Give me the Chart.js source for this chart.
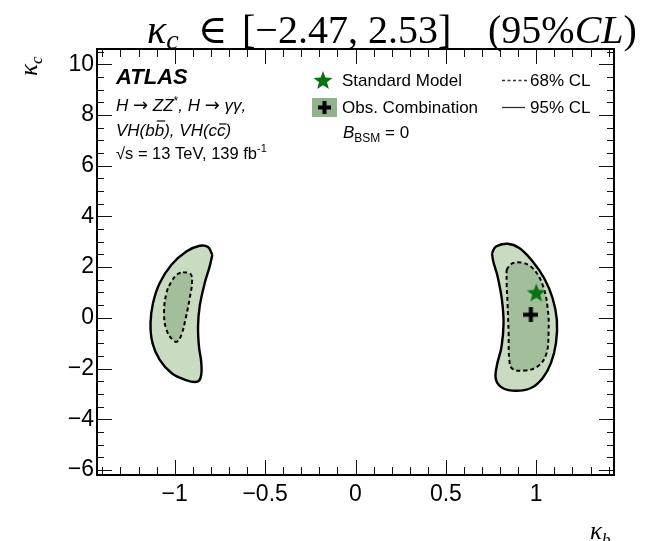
<!DOCTYPE html>
<html>
<head>
<meta charset="utf-8">
<script src="https://cdn.jsdelivr.net/npm/chart.js@4.4.0/dist/chart.umd.min.js"></script>
<style>
  html, body { margin: 0; padding: 0; background: #fff; }
  #wrap { width: 645px; height: 541px; }
</style>
</head>
<body>
<div id="wrap"><canvas id="chart" width="645" height="541"></canvas></div>
<script>
// --- kappa_b vs kappa_c likelihood contours ---

const xTicks = [-1, -0.5, 0, 0.5, 1];
const yTicks = [-6, -4, -2, 0, 2, 4, 6, 8, 10];

// contours as [kappa_b, kappa_c] pairs, first point repeated to close the loop
const posOuter95 = [
    [0.755, 2.55], [0.777, 2.81], [0.841, 2.92], [0.906, 2.75], [0.980, 2.22],
    [1.044, 1.56], [1.090, 0.78], [1.114, -0.08], [1.109, -1.00], [1.081, -1.79],
    [1.035, -2.38], [0.971, -2.77], [0.888, -2.88], [0.814, -2.77], [0.777, -2.44],
    [0.781, -1.92], [0.808, -1.13], [0.819, -0.21], [0.810, 0.71], [0.786, 1.63],
    [0.762, 2.22], [0.755, 2.55]
];
const posInner68 = [
    [0.836, 1.89], [0.860, 2.12], [0.915, 2.18], [0.980, 1.96], [1.035, 1.30],
    [1.063, 0.38], [1.068, -0.60], [1.054, -1.46], [1.007, -1.92], [0.934, -2.08],
    [0.869, -2.02], [0.851, -1.66], [0.847, -0.60], [0.841, 0.58], [0.836, 1.37],
    [0.836, 1.89]
];
const negOuter95 = [
    [-0.792, 2.48], [-0.807, 2.02], [-0.834, 1.37], [-0.862, 0.45], [-0.871, -0.34],
    [-0.866, -1.13], [-0.853, -1.79], [-0.856, -2.34], [-0.880, -2.53], [-0.945, -2.44],
    [-1.018, -2.18], [-1.083, -1.66], [-1.123, -1.00], [-1.134, -0.21], [-1.120, 0.58],
    [-1.083, 1.37], [-1.018, 2.09], [-0.936, 2.61], [-0.862, 2.84], [-0.816, 2.79],
    [-0.792, 2.48]
];
const negInner68 = [
    [-0.954, 1.80], [-0.913, 1.73], [-0.904, 1.43], [-0.917, 0.78], [-0.939, -0.01],
    [-0.963, -0.67], [-0.985, -0.93], [-1.009, -0.89], [-1.046, -0.47], [-1.059, 0.18],
    [-1.046, 0.97], [-1.018, 1.43], [-0.985, 1.72], [-0.954, 1.80]
];

const smPoint = [[1, 1]];
const bestFit = [[0.97, 0.12]];

// --- colours / fonts ---
const FILL95 = 'rgb(201, 219, 193)';
const FILL68 = 'rgb(163, 190, 155)';
const LEGBOX = 'rgb(148, 177, 142)';
const STAR = 'rgb(10, 112, 20)';
const SANS = '"Liberation Sans", Arial, Helvetica, sans-serif';
const SERIF = '"Liberation Serif", "DejaVu Serif", serif';

const toXY = pts => pts.map(p => ({ x: p[0], y: p[1] }));

function starPath(g, cx, cy, r) {
    g.beginPath();
    for (let i = 0; i < 10; i++) {
        const a = -Math.PI / 2 + i * Math.PI / 5;
        const rr = i % 2 === 0 ? r : r * 0.42;
        g.lineTo(cx + rr * Math.cos(a), cy + rr * Math.sin(a));
    }
    g.closePath();
}

function makeStar(r) {
    const c = document.createElement('canvas');
    c.width = c.height = Math.ceil(2 * r + 2);
    const g = c.getContext('2d');
    starPath(g, c.width / 2, c.height / 2 + r * 0.1, r);
    g.fillStyle = STAR;
    g.fill();
    return c;
}

function plusPath(g, cx, cy, size, thick) {
    g.fillRect(cx - size / 2, cy - thick / 2, size, thick);
    g.fillRect(cx - thick / 2, cy - size / 2, thick, size);
}

function makePlus(size, thick) {
    const c = document.createElement('canvas');
    c.width = c.height = size;
    const g = c.getContext('2d');
    g.fillStyle = '#000';
    plusPath(g, size / 2, size / 2, size, thick);
    return c;
}

function contour(pts, inner) {
    return {
        data: toXY(pts),
        showLine: true,
        fill: 'shape',
        tension: 0.4,
        pointRadius: 0,
        borderColor: '#000',
        borderWidth: inner ? 2 : 2.4,
        borderDash: inner ? [4, 3] : [],
        backgroundColor: inner ? FILL68 : FILL95,
        order: inner ? 3 : 4
    };
}

const fmtTick = v => String(v).replace('-', '\u2212');

// draw a row of text pieces, each with its own font and vertical shift
function drawRuns(ctx, x, y, parts) {
    for (const p of parts) {
        ctx.font = p.f;
        const w = ctx.measureText(p.t).width;
        ctx.fillText(p.t, x, y + (p.dy || 0));
        if (p.over) {
            ctx.save();
            ctx.lineWidth = 1.2;
            ctx.beginPath();
            ctx.moveTo(x + 2, y - p.over);
            ctx.lineTo(x + w + 1, y - p.over);
            ctx.stroke();
            ctx.restore();
        }
        x += w + (p.gap || 0);
    }
    return x;
}

// frame with inward ticks on all four sides
const framePlugin = {
    id: 'frame',
    afterDatasetsDraw(chart) {
        const { ctx, chartArea: a, scales: { x, y } } = chart;
        ctx.save();
        ctx.strokeStyle = '#111';
        ctx.lineWidth = 1;
        ctx.beginPath();
        for (let i = -14; i <= 14; i++) {
            const px = Math.round(x.getPixelForValue(i / 10)) + 0.5;
            const len = i % 5 === 0 ? 15 : 8;
            ctx.moveTo(px, a.bottom); ctx.lineTo(px, a.bottom - len);
            ctx.moveTo(px, a.top); ctx.lineTo(px, a.top + len);
        }
        for (let i = -12; i <= 21; i++) {
            const py = Math.round(y.getPixelForValue(i / 2)) + 0.5;
            const len = i % 4 === 0 ? 15 : 7;
            ctx.moveTo(a.left, py); ctx.lineTo(a.left + len, py);
            ctx.moveTo(a.right, py); ctx.lineTo(a.right - len, py);
        }
        ctx.stroke();
        ctx.lineWidth = 2;
        ctx.strokeStyle = '#000';
        ctx.strokeRect(a.left, a.top, a.right - a.left, a.bottom - a.top);
        ctx.restore();
    }
};

// title, axis titles, ATLAS label and legend
const textPlugin = {
    id: 'labels',
    afterDraw(chart) {
        const ctx = chart.ctx;
        ctx.save();
        ctx.fillStyle = '#000';
        ctx.strokeStyle = '#000';
        ctx.textBaseline = 'alphabetic';
        ctx.textAlign = 'left';

        // title
        const tI = 'italic 40px ' + SERIF, tR = '40px ' + SERIF;
        drawRuns(ctx, 147, 43, [
            { t: '\u03ba', f: tI },
            { t: 'c', f: 'italic 28px ' + SERIF, dy: 6 }
        ]);
        drawRuns(ctx, 198, 43, [{ t: '\u2208', f: tR }]);
        drawRuns(ctx, 242, 43, [{ t: '[\u22122.47, 2.53]', f: tR }]);
        drawRuns(ctx, 488, 43, [
            { t: '(95%', f: tR },
            { t: 'CL', f: tI },
            { t: ')', f: tR }
        ]);

        // y axis title, rotated
        ctx.save();
        ctx.translate(37, 76);
        ctx.rotate(-Math.PI / 2);
        drawRuns(ctx, 0, 0, [
            { t: '\u03ba', f: 'italic 25px ' + SERIF },
            { t: 'c', f: 'italic 17px ' + SERIF, dy: 5 }
        ]);
        ctx.restore();

        // x axis title
        drawRuns(ctx, 590, 539, [
            { t: '\u03ba', f: 'italic 25px ' + SERIF },
            { t: 'b', f: 'italic 17px ' + SERIF, dy: 6 }
        ]);

        // ATLAS block
        ctx.font = 'italic bold 22px ' + SANS;
        ctx.fillText('ATLAS', 116, 84);
        const it = 'italic 17px ' + SANS, rm = '17px ' + SANS;
        const arrow = '18px "DejaVu Sans", sans-serif';
        drawRuns(ctx, 116, 111, [
            { t: 'H ', f: it },
            { t: '\u2192', f: arrow },
            { t: ' ZZ', f: it },
            { t: '*', f: '12px ' + SANS, dy: -6 },
            { t: ', H ', f: it },
            { t: '\u2192', f: arrow },
            { t: ' \u03b3\u03b3,', f: it }
        ]);
        drawRuns(ctx, 116, 136, [
            { t: 'VH(b', f: it },
            { t: 'b', f: it, over: 15 },
            { t: '), VH(c', f: it },
            { t: 'c', f: it, over: 12 },
            { t: ')', f: it }
        ]);
        drawRuns(ctx, 116, 159, [
            { t: '\u221as = 13 TeV, 139 fb', f: '16.5px ' + SANS },
            { t: '-1', f: '11px ' + SANS, dy: -7 }
        ]);

        // legend
        const lf = '17px ' + SANS;
        ctx.fillStyle = STAR;
        starPath(ctx, 323, 81, 10);
        ctx.fill();
        ctx.fillStyle = LEGBOX;
        ctx.fillRect(312, 98, 25, 19);
        ctx.fillStyle = '#000';
        plusPath(ctx, 324.5, 107.5, 13, 4);
        ctx.font = lf;
        ctx.fillText('Standard Model', 342, 86);
        ctx.fillText('Obs. Combination', 342, 113);
        ctx.fillText('68% CL', 530, 86);
        ctx.fillText('95% CL', 530, 113);
        drawRuns(ctx, 343, 138, [
            { t: 'B', f: 'italic 17px ' + SANS },
            { t: 'BSM', f: '12px ' + SANS, dy: 4 },
            { t: ' = 0', f: lf }
        ]);
        ctx.lineWidth = 1.3;
        ctx.strokeStyle = '#333';
        ctx.setLineDash([3, 2.5]);
        ctx.beginPath(); ctx.moveTo(502, 80.5); ctx.lineTo(527, 80.5); ctx.stroke();
        ctx.setLineDash([]);
        ctx.beginPath(); ctx.moveTo(502, 107.5); ctx.lineTo(525, 107.5); ctx.stroke();
        ctx.restore();
    }
};

Chart.defaults.font.family = SANS;
Chart.defaults.color = '#000';

const chart = new Chart(document.getElementById('chart'), {
    type: 'scatter',
    data: {
        datasets: [
            contour(negOuter95, false),
            contour(negInner68, true),
            contour(posOuter95, false),
            contour(posInner68, true),
            { data: toXY(bestFit), pointStyle: makePlus(15, 4), pointRadius: 8, order: 2 },
            { data: toXY(smPoint), pointStyle: makeStar(10), pointRadius: 10, order: 1 }
        ]
    },
    options: {
        responsive: false,
        animation: false,
        events: [],
        layout: { padding: { top: 49, right: 31, left: 0, bottom: 0 } },
        plugins: { legend: { display: false }, tooltip: { enabled: false } },
        scales: {
            x: {
                type: 'linear', min: -1.43, max: 1.43,
                afterBuildTicks: s => { s.ticks = xTicks.map(v => ({ value: v })); },
                afterFit: s => { s.height = 66; },
                grid: { display: false, drawTicks: false },
                border: { display: false },
                ticks: { font: { size: 23 }, padding: 6, maxRotation: 0, autoSkip: false, callback: fmtTick }
            },
            y: {
                type: 'linear', min: -6.2, max: 10.6,
                afterBuildTicks: s => { s.ticks = yTicks.map(v => ({ value: v })); },
                afterFit: s => { s.width = 97; },
                grid: { display: false, drawTicks: false },
                border: { display: false },
                ticks: { font: { size: 23 }, padding: 3, autoSkip: false, callback: fmtTick }
            }
        }
    },
    plugins: [framePlugin, textPlugin]
});
</script>
</body>
</html>
